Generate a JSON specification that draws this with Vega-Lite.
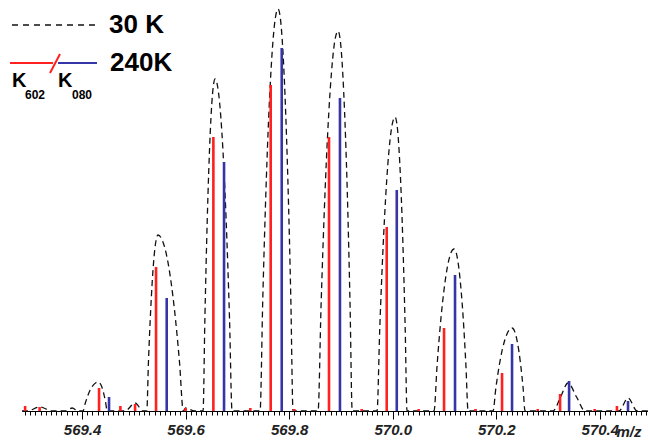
{
  "$schema": "https://vega.github.io/schema/vega-lite/v6.json",
  "width": 626,
  "height": 411,
  "padding": {"left": 22, "top": 0, "right": 0, "bottom": 29},
  "autosize": {"type": "none"},
  "background": "white",
  "config": {"view": {"stroke": null}},
  "datasets": {
    "profile": [
      {"mz": 569.284, "i": 0},
      {"mz": 569.2937, "i": 0}, {"mz": 569.3188, "i": 4}, {"mz": 569.342, "i": 0},
      {"mz": 569.367, "i": 0}, {"mz": 569.381, "i": 3}, {"mz": 569.392, "i": 0},
      {"mz": 569.4019, "i": 0}, {"mz": 569.4063, "i": 8}, {"mz": 569.4121, "i": 16.7}, {"mz": 569.4193, "i": 24.4}, {"mz": 569.4266, "i": 28.3}, {"mz": 569.4309, "i": 29}, {"mz": 569.4335, "i": 28.3}, {"mz": 569.4379, "i": 24.4}, {"mz": 569.4422, "i": 16.7}, {"mz": 569.4457, "i": 8}, {"mz": 569.4483, "i": 0},
      {"mz": 569.483, "i": 0}, {"mz": 569.5024, "i": 8}, {"mz": 569.5178, "i": 0},
      {"mz": 569.525, "i": 0}, {"mz": 569.5282, "i": 48.8}, {"mz": 569.5326, "i": 101.6}, {"mz": 569.538, "i": 147.8}, {"mz": 569.5434, "i": 172}, {"mz": 569.5466, "i": 176}, {"mz": 569.5539, "i": 172}, {"mz": 569.5662, "i": 147.8}, {"mz": 569.5784, "i": 101.6}, {"mz": 569.5882, "i": 48.8}, {"mz": 569.5955, "i": 0},
      {"mz": 569.6, "i": 3}, {"mz": 569.6174, "i": 0},
      {"mz": 569.6337, "i": 0}, {"mz": 569.6372, "i": 92.1}, {"mz": 569.6418, "i": 191.7}, {"mz": 569.6476, "i": 278.9}, {"mz": 569.6534, "i": 324.5}, {"mz": 569.6569, "i": 332}, {"mz": 569.6618, "i": 324.5}, {"mz": 569.67, "i": 278.9}, {"mz": 569.6782, "i": 191.7}, {"mz": 569.6848, "i": 92.1}, {"mz": 569.6897, "i": 0},
      {"mz": 569.7438, "i": 0}, {"mz": 569.749, "i": 111.6}, {"mz": 569.7559, "i": 232.2}, {"mz": 569.7646, "i": 337.7}, {"mz": 569.7733, "i": 393}, {"mz": 569.7785, "i": 402}, {"mz": 569.7829, "i": 393}, {"mz": 569.7901, "i": 337.7}, {"mz": 569.7974, "i": 232.2}, {"mz": 569.8032, "i": 111.6}, {"mz": 569.8075, "i": 0},
      {"mz": 569.8558, "i": 0}, {"mz": 569.8616, "i": 105.5}, {"mz": 569.8693, "i": 219.5}, {"mz": 569.879, "i": 319.2}, {"mz": 569.8886, "i": 371.5}, {"mz": 569.8944, "i": 380}, {"mz": 569.8985, "i": 371.5}, {"mz": 569.9053, "i": 319.2}, {"mz": 569.9122, "i": 219.5}, {"mz": 569.9176, "i": 105.5}, {"mz": 569.9217, "i": 0},
      {"mz": 569.9697, "i": 0}, {"mz": 569.9749, "i": 81.6}, {"mz": 569.9819, "i": 169.8}, {"mz": 569.9906, "i": 247}, {"mz": 569.9993, "i": 287.4}, {"mz": 570.0045, "i": 294}, {"mz": 570.008, "i": 287.4}, {"mz": 570.0137, "i": 247}, {"mz": 570.0195, "i": 169.8}, {"mz": 570.0241, "i": 81.6}, {"mz": 570.0276, "i": 0},
      {"mz": 570.0798, "i": 0}, {"mz": 570.0856, "i": 45}, {"mz": 570.0933, "i": 93.6}, {"mz": 570.103, "i": 136.1}, {"mz": 570.1126, "i": 158.4}, {"mz": 570.1184, "i": 162}, {"mz": 570.1225, "i": 158.4}, {"mz": 570.1292, "i": 136.1}, {"mz": 570.136, "i": 93.6}, {"mz": 570.1414, "i": 45}, {"mz": 570.1455, "i": 0},
      {"mz": 570.1937, "i": 0}, {"mz": 570.1992, "i": 23}, {"mz": 570.2065, "i": 47.9}, {"mz": 570.2157, "i": 69.7}, {"mz": 570.2249, "i": 81.1}, {"mz": 570.2304, "i": 83}, {"mz": 570.2342, "i": 81.1}, {"mz": 570.2404, "i": 69.7}, {"mz": 570.2467, "i": 47.9}, {"mz": 570.2518, "i": 23}, {"mz": 570.2555, "i": 0},
      {"mz": 570.3096, "i": 0}, {"mz": 570.3241, "i": 14}, {"mz": 570.3386, "i": 28}, {"mz": 570.355, "i": 14}, {"mz": 570.3714, "i": 0},
      {"mz": 570.437, "i": 0}, {"mz": 570.4544, "i": 13}, {"mz": 570.472, "i": 0},
      {"mz": 570.493, "i": 0}
    ],
    "sticks": [
      {"mz": 569.4328, "i": 23, "iso": "K602"}, {"mz": 569.5429, "i": 144, "iso": "K602"}, {"mz": 569.6536, "i": 274, "iso": "K602"}, {"mz": 569.7643, "i": 326, "iso": "K602"}, {"mz": 569.8769, "i": 274, "iso": "K602"}, {"mz": 569.9884, "i": 184, "iso": "K602"}, {"mz": 570.0991, "i": 83, "iso": "K602"}, {"mz": 570.2111, "i": 38, "iso": "K602"}, {"mz": 570.3232, "i": 17, "iso": "K602"}, {"mz": 570.433, "i": 5, "iso": "K602"},
      {"mz": 569.29, "i": 5, "iso": "K602"}, {"mz": 569.318, "i": 4, "iso": "K602"}, {"mz": 569.474, "i": 5, "iso": "K602"}, {"mz": 569.5024, "i": 7, "iso": "K602"}, {"mz": 569.6, "i": 3, "iso": "K602"}, {"mz": 569.725, "i": 3, "iso": "K602"}, {"mz": 569.81, "i": 2, "iso": "K602"}, {"mz": 569.94, "i": 2, "iso": "K602"}, {"mz": 570.05, "i": 2, "iso": "K602"}, {"mz": 570.16, "i": 2, "iso": "K602"}, {"mz": 570.28, "i": 2, "iso": "K602"}, {"mz": 570.39, "i": 2, "iso": "K602"},
      {"mz": 569.4521, "i": 14, "iso": "K080"}, {"mz": 569.5635, "i": 113, "iso": "K080"}, {"mz": 569.6742, "i": 249, "iso": "K080"}, {"mz": 569.7856, "i": 363, "iso": "K080"}, {"mz": 569.8981, "i": 313, "iso": "K080"}, {"mz": 570.0078, "i": 221, "iso": "K080"}, {"mz": 570.1203, "i": 136, "iso": "K080"}, {"mz": 570.2304, "i": 67, "iso": "K080"}, {"mz": 570.3406, "i": 30, "iso": "K080"}, {"mz": 570.4544, "i": 10, "iso": "K080"}
    ],
    "legDash": [{"mz": 569.2647, "i": 386}, {"mz": 569.4288, "i": 386}],
    "legSolid": [
      {"seg": "red", "mz": 569.2608, "i": 348}, {"seg": "red", "mz": 569.3439, "i": 348},
      {"seg": "blue", "mz": 569.3535, "i": 348}, {"seg": "blue", "mz": 569.4288, "i": 348},
      {"seg": "slash", "mz": 569.3381, "i": 338}, {"seg": "slash", "mz": 569.3574, "i": 357}
    ],
    "texts": [
      {"role": "big", "t": "30 K", "mz": 569.452, "i": 386},
      {"role": "big", "t": "240K", "mz": 569.454, "i": 348},
      {"role": "k", "t": "K", "mz": 569.2647, "i": 330},
      {"role": "k", "t": "K", "mz": 569.3535, "i": 330},
      {"role": "sub", "t": "602", "mz": 569.2898, "i": 316},
      {"role": "sub", "t": "080", "mz": 569.3805, "i": 316}
    ]
  },
  "encoding": {
    "x": {
      "field": "mz", "type": "quantitative",
      "scale": {"domain": [569.284, 570.493], "nice": false, "zero": false},
      "axis": {
        "tickCount": 120,
        "grid": false,
        "domainColor": "#000000",
        "domainWidth": 1,
        "tickColor": "#000000",
        "tickWidth": 1,
        "tickSize": {"condition": {"test": "abs(datum.value*5 - round(datum.value*5)) < 0.001", "value": 8}, "value": 4},
        "labelExpr": "abs(datum.value*5 - round(datum.value*5)) < 0.001 ? format(datum.value, '.1f') : ''",
        "labelOverlap": false,
        "labelFlush": false,
        "labelBound": false,
        "labelFont": "Liberation Sans",
        "labelFontSize": 15,
        "labelFontWeight": "bold",
        "labelFontStyle": "italic",
        "labelColor": "#222222",
        "labelPadding": 3,
        "title": "m/z",
        "titleFont": "Liberation Sans",
        "titleFontSize": 15,
        "titleFontWeight": "bold",
        "titleFontStyle": "italic",
        "titleColor": "#222222",
        "titleAnchor": null,
        "titleAlign": "left",
        "titleBaseline": "middle",
        "titleX": 594,
        "titleY": 20
      }
    },
    "y": {
      "field": "i", "type": "quantitative",
      "scale": {"domain": [0, 411], "nice": false, "zero": true},
      "axis": null
    }
  },
  "layer": [
    {
      "data": {"name": "profile"},
      "mark": {"type": "line", "color": "#111111", "strokeWidth": 1.3, "strokeDash": [6, 4], "interpolate": "monotone"}
    },
    {
      "data": {"values": [{"k": 1}]},
      "mark": {"type": "rule", "color": "#ff2020", "strokeWidth": 2},
      "encoding": {"x": null, "y": {"datum": 0}}
    },
    {
      "data": {"name": "sticks"},
      "mark": {"type": "rule", "strokeWidth": 2.6},
      "encoding": {
        "y2": {"datum": 0},
        "color": {"field": "iso", "type": "nominal", "scale": {"domain": ["K602", "K080"], "range": ["#ff2020", "#3535a8"]}, "legend": null}
      }
    },
    {
      "data": {"name": "legDash"},
      "mark": {"type": "line", "color": "#111111", "strokeWidth": 1.5, "strokeDash": [6, 5]}
    },
    {
      "data": {"name": "legSolid"},
      "mark": {"type": "line", "strokeWidth": 2},
      "encoding": {
        "detail": {"field": "seg"},
        "color": {"field": "seg", "type": "nominal", "scale": {"domain": ["red", "blue", "slash"], "range": ["#ff2020", "#3535a8", "#000000"]}, "legend": null}
      }
    },
    {
      "data": {"name": "texts"},
      "transform": [{"filter": "datum.role == 'big'"}],
      "mark": {"type": "text", "align": "left", "baseline": "middle", "font": "Liberation Sans", "fontSize": 26, "fontWeight": "bold", "color": "#000000"},
      "encoding": {"text": {"field": "t"}}
    },
    {
      "data": {"name": "texts"},
      "transform": [{"filter": "datum.role == 'k'"}],
      "mark": {"type": "text", "align": "left", "baseline": "middle", "font": "Liberation Sans", "fontSize": 20, "fontWeight": "bold", "color": "#000000"},
      "encoding": {"text": {"field": "t"}}
    },
    {
      "data": {"name": "texts"},
      "transform": [{"filter": "datum.role == 'sub'"}],
      "mark": {"type": "text", "align": "left", "baseline": "middle", "font": "Liberation Sans", "fontSize": 12, "fontWeight": "bold", "color": "#000000"},
      "encoding": {"text": {"field": "t"}}
    }
  ]
}
